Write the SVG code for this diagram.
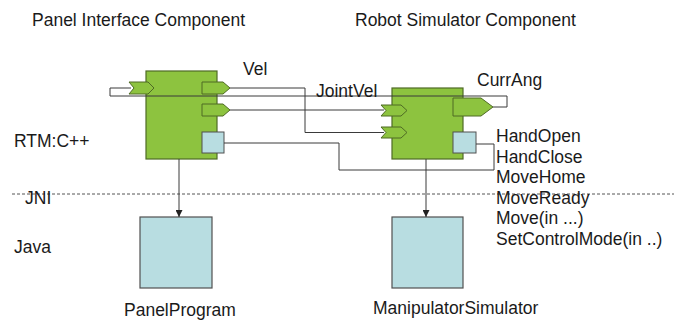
<svg xmlns="http://www.w3.org/2000/svg" width="674" height="321" viewBox="0 0 674 321">
  <style>
    text { font-family: "Liberation Sans", Arial, sans-serif; font-size: 17.5px; fill: #1a1a1a; }
    .comp { fill: #8dc33f; stroke: #4f6b25; stroke-width: 1.2; }
    .port { fill: #8dc33f; stroke: #4f6b25; stroke-width: 1; }
    .svc { fill: #b8dde1; stroke: #505050; stroke-width: 1; }
    .java { fill: #b8dde1; stroke: #505050; stroke-width: 1.2; }
    .wire { fill: none; stroke: #3a3a3a; stroke-width: 1; }
    .sep { stroke: #555; stroke-width: 1; stroke-dasharray: 3 2; }
  </style>
  <defs>
    <marker id="arrow" viewBox="0 0 10 10" refX="10" refY="5" markerWidth="7" markerHeight="7" orient="auto" markerUnits="userSpaceOnUse">
      <path d="M0,0 L10,5 L0,10 Z" fill="#222"/>
    </marker>
  </defs>

  <rect width="674" height="321" fill="#fff"/>

  <!-- layer labels and separator -->
  <g id="layers">
    <line class="sep" x1="12" y1="194" x2="674" y2="194"/>
    <text x="14" y="147">RTM:C++</text>
    <text x="25" y="204">JNI</text>
    <text x="14" y="253">Java</text>
  </g>

  <!-- component titles -->
  <text x="32" y="26">Panel Interface Component</text>
  <text x="355" y="26">Robot Simulator Component</text>

  <g id="panel-component">
    <rect class="comp" x="146" y="71" width="71" height="88"/>
    <polygon class="port" points="129,82 148,82 154,88 148,94 129,94 134,88"/>
    <polygon class="port" points="202,82 223,82 230,88 223,94 202,94"/>
    <polygon class="port" points="202,104 223,104 230,110 223,116 202,116"/>
    <rect class="svc" x="202" y="132" width="22" height="21"/>
  </g>

  <g id="robot-component">
    <rect class="comp" x="392" y="88" width="71" height="71"/>
    <polygon class="port" points="381,105 401,105 407,110.5 401,116 381,116 386,110.5"/>
    <polygon class="port" points="381,127 401,127 407,132.5 401,138 381,138 386,132.5"/>
    <polygon class="port" points="453,98 481,98 493,107 481,116 453,116"/>
    <rect class="svc" x="453" y="132" width="23" height="21"/>
  </g>

  <g id="panel-program">
    <rect class="java" x="140" y="217" width="72" height="71"/>
    <text x="124" y="316">PanelProgram</text>
  </g>

  <g id="manipulator-simulator">
    <rect class="java" x="392" y="217" width="71" height="71"/>
    <text x="373" y="314">ManipulatorSimulator</text>
  </g>

  <g id="connectors">
    <!-- CurrAng fed back to the panel input -->
    <path class="wire" d="M493,107 H507 V96 H110 V88 H131"/>
    <!-- Vel -->
    <path class="wire" d="M230,88 H305 V132.5 H384"/>
    <!-- JointVel -->
    <path class="wire" d="M230,110 H384"/>
    <!-- service port link -->
    <path class="wire" d="M224,143 H339 V170 H494 V144 H476"/>
    <!-- RTM to Java -->
    <path class="wire" d="M179,159 V217" marker-end="url(#arrow)"/>
    <path class="wire" d="M426,159 V217" marker-end="url(#arrow)"/>
  </g>

  <g id="labels">
    <text x="243" y="75">Vel</text>
    <text x="316" y="97">JointVel</text>
    <text x="477" y="86">CurrAng</text>
    <text x="496" y="142">HandOpen</text>
    <text x="496" y="162.5">HandClose</text>
    <text x="496" y="183">MoveHome</text>
    <text x="496" y="203.5">MoveReady</text>
    <text x="496" y="224">Move(in ...)</text>
    <text x="496" y="244.5">SetControlMode(in ..)</text>
  </g>
</svg>
